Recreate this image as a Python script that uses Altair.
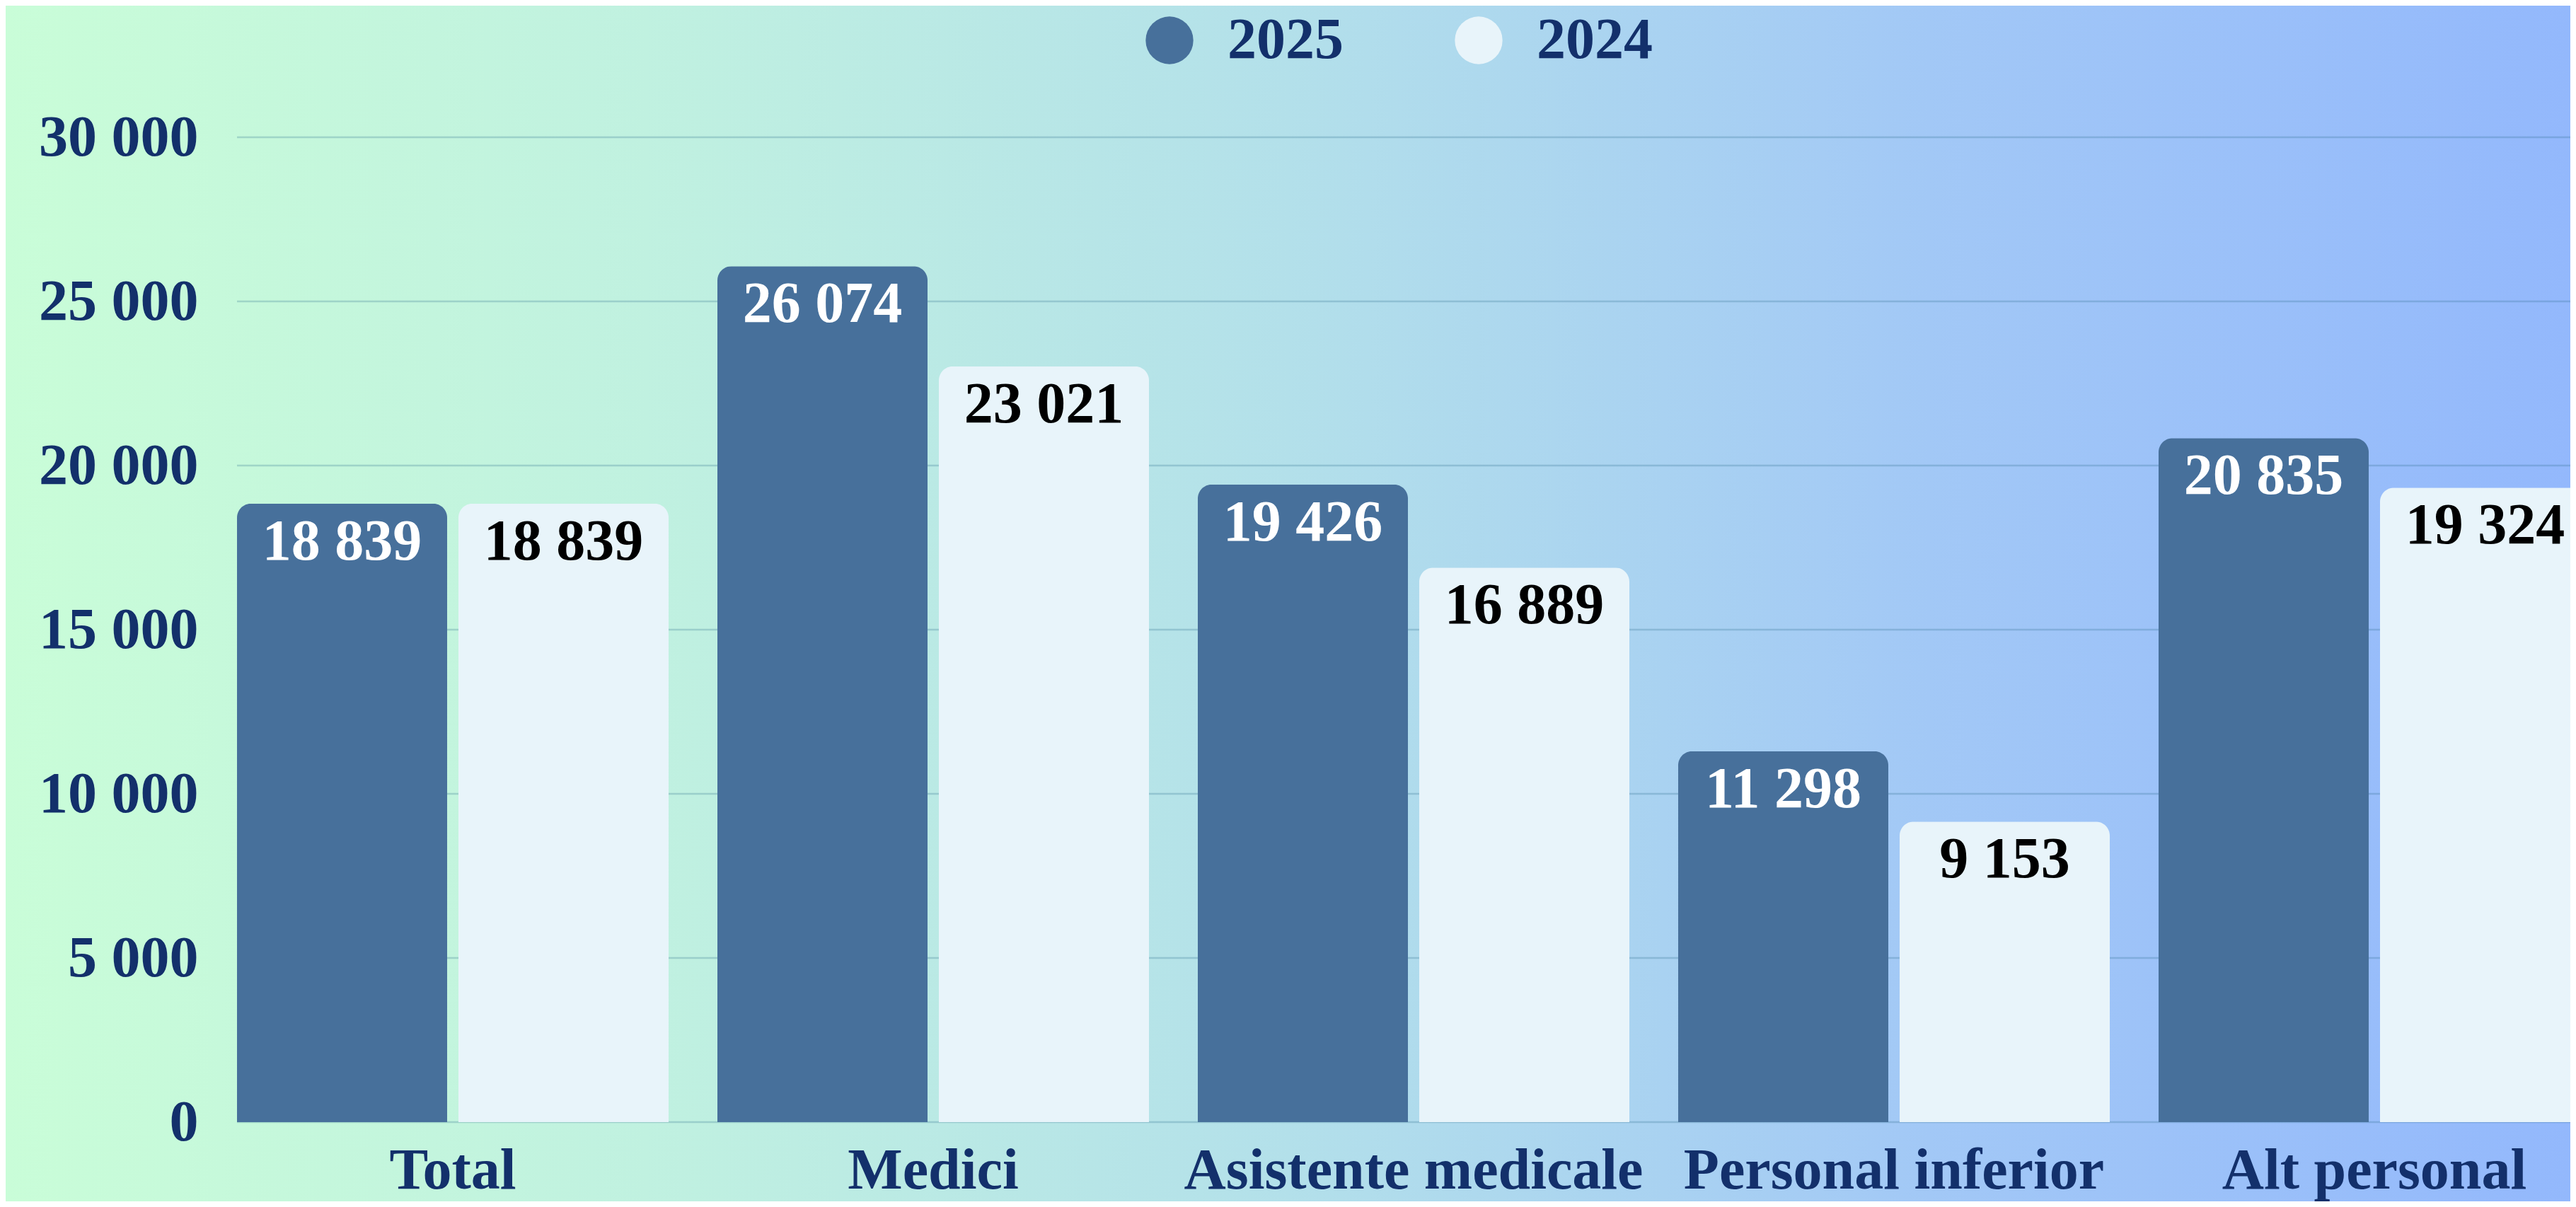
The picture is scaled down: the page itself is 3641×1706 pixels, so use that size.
import altair as alt
import pandas as pd

categories = ["Total", "Medici", "Asistente medicale", "Personal inferior", "Alt personal"]
years = ["2025", "2024"]
values_2025 = [18839, 26074, 19426, 11298, 20835]
values_2024 = [18839, 23021, 16889, 9153, 19324]
y_ticks = [0, 5000, 10000, 15000, 20000, 25000, 30000]

rows = []
for c, a, b in zip(categories, values_2025, values_2024):
    rows.append({"cat": c, "year": "2025", "value": a})
    rows.append({"cat": c, "year": "2024", "value": b})
df = pd.DataFrame(rows)
grid_df = pd.DataFrame({"value": y_ticks})

FONT = "Liberation Serif"
NAVY = "#13306b"
C2025 = "#47709b"
C2024 = "#e8f4fa"
GRID = "#2d6a8c"

W, H = 3298, 1392
PL, PT, PR, PB = 327, 186, 0, 112


def y_enc():
    return alt.Y(
        "value:Q",
        scale=alt.Scale(domain=[0, 30000], nice=False),
        axis=alt.Axis(
            title=None, values=y_ticks, ticks=False, domain=False, grid=False,
            labelPadding=55, labelFont=FONT, labelFontSize=82,
            labelFontWeight="bold", labelColor=NAVY, zindex=1, labelLimit=0,
            labelExpr="replace(format(datum.value, ','), ',', ' ')",
        ),
    )


bg = alt.Chart(pd.DataFrame({"z": [0]})).mark_rect(
    color=alt.LinearGradient(
        gradient="linear", x1=0, x2=1, y1=0, y2=0,
        stops=[
            alt.GradientStop(offset=0, color="#c9fdd8"),
            alt.GradientStop(offset=0.25, color="#c0f1e0"),
            alt.GradientStop(offset=0.5, color="#b3e0ea"),
            alt.GradientStop(offset=0.75, color="#a2c8f6"),
            alt.GradientStop(offset=1, color="#93b8fc"),
        ],
    )
).encode(
    x=alt.value(-PL), x2=alt.value(W + PR),
    y=alt.value(-PT), y2=alt.value(H + PB),
)

grid = alt.Chart(grid_df).mark_rule(
    color=GRID, opacity=0.25, strokeWidth=2.5
).encode(
    y=y_enc(), x=alt.value(0), x2=alt.value(W),
)

base = alt.Chart(df).transform_calculate(
    label="replace(format(datum.value, ','), ',', ' ')"
).encode(
    x=alt.X(
        "cat:N", sort=categories,
        scale=alt.Scale(range=[0, 3326], paddingInner=0.1016, paddingOuter=0),
        axis=alt.Axis(
            title=None, labelAngle=0, ticks=False, grid=False, domain=False,
            labelPadding=93, labelBaseline="alphabetic",
            labelFont=FONT, labelFontSize=82, labelFontWeight="bold",
            labelColor=NAVY, labelLimit=0, zindex=1,
        ),
    ),
    xOffset=alt.XOffset(
        "year:N", sort=years,
        scale=alt.Scale(paddingInner=0.0511, paddingOuter=0),
    ),
    y=y_enc(),
)

bars = base.mark_bar(cornerRadiusTopLeft=20, cornerRadiusTopRight=20).encode(
    color=alt.Color(
        "year:N",
        scale=alt.Scale(domain=years, range=[C2025, C2024]),
        legend=alt.Legend(
            orient="none", legendX=1277, legendY=-178, direction="horizontal",
            title=None, symbolType="circle", symbolSize=4536,
            symbolStrokeWidth=0, symbolOpacity=1,
            labelFont=FONT, labelFontSize=82, labelFontWeight="bold",
            labelColor=NAVY, labelOffset=41, columnPadding=150,
            padding=0, labelLimit=0,
        ),
    )
)

texts = base.mark_text(
    baseline="alphabetic", dy=79, font=FONT, fontSize=82, fontWeight="bold"
).encode(
    text="label:N",
    color=alt.condition("datum.year == '2025'", alt.value("white"), alt.value("black")),
)

chart = alt.layer(bg, grid, bars, texts).properties(
    width=W, height=H,
    autosize=alt.AutoSizeParams(type="none"),
    padding={"left": PL, "top": PT, "right": PR, "bottom": PB},
    background="#c9fdd8",
).configure_view(stroke=None)

chart.save("out.html", embed_options={"renderer": "svg", "actions": False})
